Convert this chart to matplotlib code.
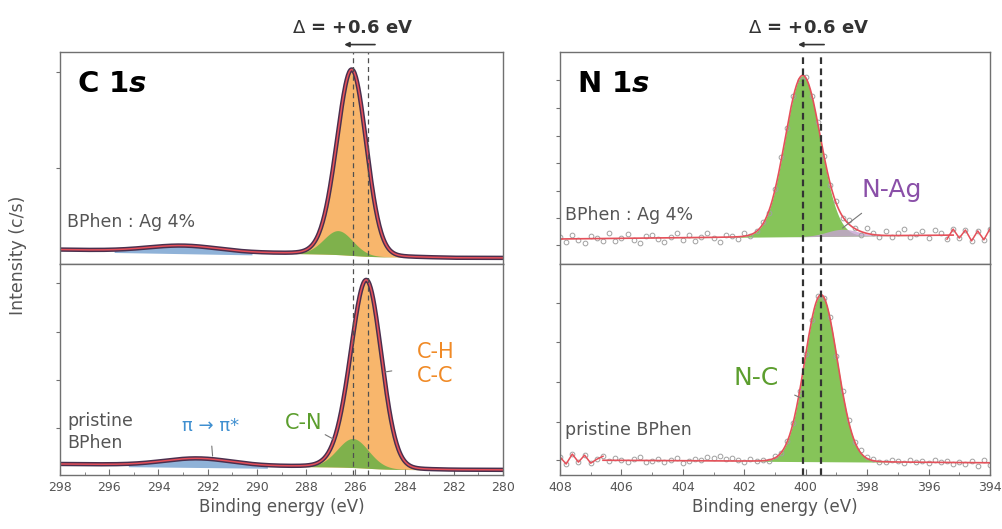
import numpy as np
import matplotlib
matplotlib.use("Agg")
import matplotlib.pyplot as plt
from matplotlib.ticker import MultipleLocator

plt.rcParams['font.family'] = ['DejaVu Sans']
plt.rcParams['mathtext.fontset'] = 'dejavusans'

# ---- peak parameters: (center eV, height, fwhm eV)
c1s_ag_ch = (286.1, 171, 1.35)
c1s_ag_cn = (286.7, 24, 1.4)
c1s_ag_pi = (293.0, 6, 3.3)
c1s_ag_bg = (6, 2, 0.40)          # right level, shirley step, slope
c1s_pr_ch = (285.5, 169, 1.4)
c1s_pr_cn = (286.1, 29, 1.5)
c1s_pr_pi = (292.4, 7, 3.2)
c1s_pr_bg = (5, 2, 0.25)

n1s_ag_nc = (400.1, 161, 1.35)
n1s_ag_nag = (398.8, 7, 1.2)
n1s_ag_bg = (25, 0.30)            # level at 408 eV, change per eV toward low BE
n1s_pr_nc = (399.5, 167, 1.25)
n1s_pr_bg = (15, -0.20)

# residuals of the N 1s data points around the fit (0.2 eV steps, 408 -> 394)
n1s_ag_resid = [2, -3, 4, -1, -4, 3, 1, -2, 5, -3, 0, 4, -2, -5, 2, 3, -1, -4, 1, 5,
                -2, 3, -3, 0, 4, -1, -5, 2, 1, -2, 3, -1, 0, 2, -2, 1, 3, -1, 0, -2,
                1, -1, 2, 0, -1, 3, -2, 4, 1, -3, 5, 2, -2, 4, -1, 3, 6, -2, 1, 4,
                -3, 5, 2, -4, 6, -3, 5, -6, 4, -5, 6]
n1s_pr_resid = [3, -4, 6, -2, 5, -3, 1, 4, -1, 2, 0, -2, 1, 3, -1, 0, 2, -1, 1, 3,
                -2, 0, 2, 1, 4, 3, 5, 2, 3, 1, -1, 2, 0, 1, -1, 2, 0, 1, -1, 0,
                1, -1, 2, 0, 3, -1, 1, 2, 0, 3, 1, 2, -1, 0, 2, 1, -1, 2, 0, 1,
                -1, 2, 0, 1, -2, 1, -1, 2, -3, 3, -2]

DARK = '#4a2f4e'
RED = '#e5505a'
ORANGE = '#f8b66c'
GREEN_C = '#7fb14c'
GREEN_N = '#86c459'
BLUE = '#8fb2d8'
GRAY = '#555555'


def peak(E, p, eta=0.05):
    c, a, w = p
    x = (E - c) / w
    return a * (eta / (1 + 4 * x ** 2) + (1 - eta) * np.exp(-4 * np.log(2) * x ** 2))


def shirley(E, peaks, bg):
    r, step, slope = bg
    tot = sum(peaks)
    order = np.argsort(E)
    cum = np.empty_like(E)
    cum[order] = np.cumsum(tot[order])
    return r + step * cum / cum.max() + slope * np.clip(E - 282, 0, None)


fig = plt.figure(figsize=(10.03, 5.29), dpi=100)
W, H = 1003, 529


def make_ax(x0, x1, y0, y1):
    return fig.add_axes([x0 / W, 1 - y1 / H, (x1 - x0) / W, (y1 - y0) / H])


axes = {
    'c_top': make_ax(60, 503, 52, 264),
    'c_bot': make_ax(60, 503, 264, 475),
    'n_top': make_ax(560, 990, 52, 264),
    'n_bot': make_ax(560, 990, 264, 475),
}
for name, ax in axes.items():
    for s in ax.spines.values():
        s.set_color('#707070')
        s.set_linewidth(1.0)
    ax.tick_params(axis='y', direction='out', length=3, color='#707070', labelleft=False)
    ax.tick_params(axis='x', which='both', direction='in', color='#707070',
                   labelsize=9, labelcolor=GRAY, pad=4)
    ax.tick_params(axis='x', which='major', length=4)
    ax.tick_params(axis='x', which='minor', length=2)
    ax.xaxis.set_major_locator(MultipleLocator(2))
    ax.xaxis.set_minor_locator(MultipleLocator(1))
    if name.endswith('top'):
        ax.tick_params(axis='x', which='both', length=0, labelbottom=False)
    else:
        ax.set_xlabel('Binding energy (eV)', fontsize=12, color=GRAY, labelpad=3)
    ax.set_ylim(0, 212 if name.endswith('top') else 211)

axes['c_top'].set_yticks([96, 192])
axes['c_bot'].set_yticks([47, 95, 143, 192])
axes['n_top'].set_yticks([19, 46, 73, 101, 128, 156, 184])
axes['n_bot'].set_yticks([15, 53, 93, 133, 172])

# ---------------- C 1s ----------------
E = np.linspace(298, 280, 721)
for key, ch, cn, pi, bg in [('c_top', c1s_ag_ch, c1s_ag_cn, c1s_ag_pi, c1s_ag_bg),
                            ('c_bot', c1s_pr_ch, c1s_pr_cn, c1s_pr_pi, c1s_pr_bg)]:
    ax = axes[key]
    p_ch, p_cn, p_pi = peak(E, ch), peak(E, cn), peak(E, pi, 0)
    base = shirley(E, [p_ch, p_cn, p_pi], bg)
    env = base + p_ch + p_cn + p_pi
    ax.fill_between(E, base, base + p_ch + p_cn, color=ORANGE, lw=0)
    ax.fill_between(E, base, base + p_cn, color=GREEN_C, lw=0)
    ax.fill_between(E, base - 2, base + p_pi, where=p_pi > 0.8, color=BLUE, lw=0)
    ax.plot(E, env, color=DARK, lw=3.2, solid_capstyle='butt')
    ax.plot(E, env, color=RED, lw=1.1)
    for xv in (286.1, 285.5):
        ax.axvline(xv, color='#505050', lw=0.9, ls=(0, (4, 3)))
    ax.set_xlim(298, 280)

# ---------------- N 1s ----------------
En = np.linspace(408, 394, 71)
Ef = np.linspace(408, 394, 561)
specs = [('n_top', [n1s_ag_nc, n1s_ag_nag], n1s_ag_bg, n1s_ag_resid, (408, 395.2)),
         ('n_bot', [n1s_pr_nc], n1s_pr_bg, n1s_pr_resid, (406.6, 394))]
for key, pks, bg, resid, frange in specs:
    ax = axes[key]
    base_f = bg[0] + bg[1] * (408 - Ef)
    comps = [peak(Ef, p, 0.02) for p in pks]
    env_f = base_f + sum(comps)
    ax.fill_between(Ef, base_f, base_f + comps[0], color=GREEN_N, lw=0)
    if len(comps) > 1:
        ax.fill_between(Ef, base_f, base_f + comps[1], color='#c7a3d3', alpha=0.8, lw=0)
    base_n = bg[0] + bg[1] * (408 - En)
    data = base_n + sum(peak(En, p, 0.02) for p in pks) + np.array(resid)
    ax.plot(En, data, 'o', ms=3.4, mfc='none', mec='#a0a0a0', mew=0.7)
    if key == 'n_top':
        m = En <= frange[1] + 0.2
    else:
        m = En >= frange[0] - 0.2
    ax.plot(En[m], data[m], color=RED, lw=1.1)
    inside = (Ef <= frange[0]) & (Ef >= frange[1])
    ax.plot(Ef[inside], env_f[inside], color=RED, lw=1.2)
    for xv in (400.1, 399.5):
        ax.axvline(xv, color='#333333', lw=1.6, ls=(0, (3, 2)))
    ax.set_xlim(408, 394)

# ---------------- annotations ----------------
ct, cb, nt, nb = axes['c_top'], axes['c_bot'], axes['n_top'], axes['n_bot']

ct.text(297.3, 180, 'C 1$\\bfit{s}$', fontsize=21, fontweight='bold', va='center', ha='left')
nt.text(407.45, 180, 'N 1$\\bfit{s}$', fontsize=21, fontweight='bold', va='center', ha='left')

for ax, xc, x0, x1 in [(ct, 286.1, 285.2, 286.45), (nt, 399.9, 399.4, 400.25)]:
    ax.text(xc, 1.113, '$\\Delta$ = +0.6 eV', transform=ax.get_xaxis_transform(),
            fontsize=13, fontweight='bold', ha='center', va='center', color='#333333')
    ax.annotate('', xy=(x1, 1.035), xytext=(x0, 1.035),
                xycoords=ax.get_xaxis_transform(), textcoords=ax.get_xaxis_transform(),
                arrowprops=dict(arrowstyle='-|>', color='#333333', lw=1.2,
                                mutation_scale=7, shrinkA=0, shrinkB=0),
                annotation_clip=False)

ct.text(297.7, 42, 'BPhen : Ag 4%', fontsize=12.5, color=GRAY, va='center')
nt.text(407.84, 49, 'BPhen : Ag 4%', fontsize=12.5, color=GRAY, va='center')
cb.text(297.7, 43, 'pristine\nBPhen', fontsize=12.5, color=GRAY, va='center', linespacing=1.25)
nb.text(407.84, 45, 'pristine BPhen', fontsize=12.5, color=GRAY, va='center')

cb.annotate('\u03c0 \u2192 \u03c0*', xy=(291.8, 19), xytext=(291.9, 49), fontsize=13,
            color='#3f8fd0', ha='center', va='center',
            arrowprops=dict(arrowstyle='-', color='#777777', lw=0.8, shrinkA=6, shrinkB=0))
cb.annotate('C-N', xy=(286.9, 36), xytext=(288.1, 52), fontsize=15, color='#5c9e2e',
            ha='center', va='center',
            arrowprops=dict(arrowstyle='-', color='#777777', lw=0.8, shrinkA=8, shrinkB=0))
cb.annotate('C-H\nC-C', xy=(284.8, 103), xytext=(282.75, 111), fontsize=15,
            color='#f08a26', ha='center', va='center', linespacing=1.2,
            arrowprops=dict(arrowstyle='-', color='#777777', lw=0.8, shrinkA=16, shrinkB=0))
nt.annotate('N-Ag', xy=(398.8, 36), xytext=(397.2, 74), fontsize=18, color='#8a4fa8',
            ha='center', va='center',
            arrowprops=dict(arrowstyle='-', color='#777777', lw=0.8, shrinkA=10, shrinkB=0))
nb.annotate('N-C', xy=(400.15, 77), xytext=(401.6, 97), fontsize=18, color='#5c9e2e',
            ha='center', va='center',
            arrowprops=dict(arrowstyle='-', color='#777777', lw=0.8, shrinkA=10, shrinkB=0))

fig.text(18 / W, 1 - 255 / H, 'Intensity (c/s)', rotation=90, fontsize=12.5, color=GRAY,
         ha='center', va='center')

fig.savefig('out.png', dpi=100)
